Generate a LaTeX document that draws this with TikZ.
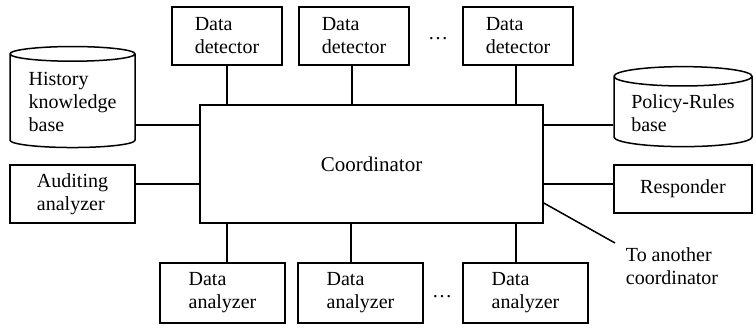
\documentclass[tikz,border=0pt]{standalone}
\usepackage{fontspec}
\setmainfont{Liberation Serif}
\usetikzlibrary{shapes,arrows}
\usetikzlibrary{positioning}

\begin{document}
\begin{tikzpicture}[
    x=1pt, y=-1pt, line width=1.5pt,
every node/.style = {inner sep=2pt, font=\fontsize{20}{23}\selectfont},
    box/.style = {draw, align=left, minimum height=58pt},
    db/.style = {draw, align=left, cylinder, shape border rotate=90}]
\useasboundingbox (0,0) rectangle (756,331);

\node[draw, minimum width=343pt, minimum height=118pt,
      font=\fontsize{21}{25}\selectfont] (coord) at (371.5,164) {Coordinator};

\node[box, minimum width=110pt] (det1) at (227,36) {Data\\detector};
\node[box, minimum width=110pt] (det2) at (354,36) {Data\\detector};
\node[box, minimum width=110pt] (det3) at (518,36) {Data\\detector};
\node (dots1) at (438,39) {…};

\node[db, aspect=0.16, minimum width=125pt, minimum height=101pt] (hist) at (72.5,102) {History\\knowledge\\base};
\node[box, minimum width=125pt] (aud) at (72.5,194) {Auditing\\analyzer};
\node[db, aspect=0.18, minimum width=138pt, minimum height=80pt] (pol) at (683,113) {Policy-Rules\\base};
\node[box, minimum width=138pt, minimum height=48pt] (resp) at (683,189) {Responder};

\node[box, minimum width=125pt, minimum height=60pt] (ana1) at (222.5,293) {Data\\analyzer};
\node[box, minimum width=125pt, minimum height=60pt] (ana2) at (360.5,293) {Data\\analyzer};
\node[box, minimum width=125pt, minimum height=60pt] (ana3) at (525.5,293) {Data\\analyzer};
\node (dots2) at (442,297) {…};

\node[align=left] (other) at (672,266) {To another\\coordinator};
\coordinate (out) at (615,243);

\draw (det1.south) -- (det1.south |- coord.north);
\draw ([xshift=-2pt]det2.south) -- ([xshift=-2pt]det2.south |- coord.north);
\draw ([xshift=-2pt]det3.south) -- ([xshift=-2pt]det3.south |- coord.north);

\draw ([yshift=-23pt]hist.east) -- ([yshift=-23pt]hist.east -| coord.west);
\draw ([yshift=10pt]aud.east) -- ([yshift=10pt]aud.east -| coord.west);
\draw ([yshift=-12pt]pol.west) -- ([yshift=-12pt]pol.west -| coord.east);
\draw ([yshift=5pt]resp.west) -- ([yshift=5pt]resp.west -| coord.east);
\draw ([yshift=-39pt]coord.east) -- (out);

\draw ([xshift=4.5pt]ana1.north) -- ([xshift=4.5pt]ana1.north |- coord.south);
\draw ([xshift=-9.5pt]ana2.north) -- ([xshift=-9.5pt]ana2.north |- coord.south);
\draw ([xshift=-9.5pt]ana3.north) -- ([xshift=-9.5pt]ana3.north |- coord.south);
\end{tikzpicture}
\end{document}
